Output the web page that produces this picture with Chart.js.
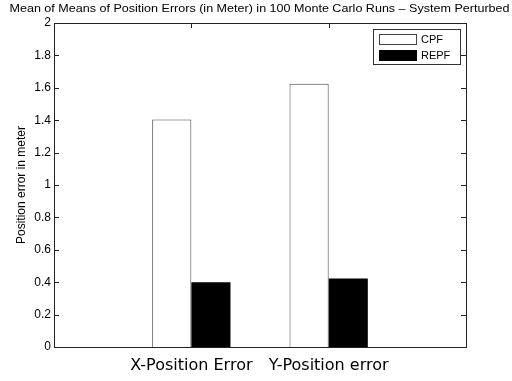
<!DOCTYPE html>
<html>
<head>
<meta charset="utf-8">
<script src="https://cdn.jsdelivr.net/npm/chart.js@4"></script>
<style>
    html, body { margin: 0; padding: 0; background: #fff; }
    #wrap { width: 512px; height: 381px; }
</style>
</head>
<body>
<div id="wrap"><canvas id="chart"></canvas></div>
<script>
const categories = ['', 'X-Position Error', 'Y-Position error', ''];
const cpfValues = [null, 1.405, 1.625, null];
const repfValues = [null, 0.40, 0.423, null];
const yTicks = [0, 0.2, 0.4, 0.6, 0.8, 1, 1.2, 1.4, 1.6, 1.8, 2];
const titleText = 'Mean of Means of Position Errors (in Meter) in 100 Monte Carlo Runs \u2013 System Perturbed';
const yTitle = 'Position error in meter';

const FONT = '"Liberation Sans", Arial, sans-serif';

// matlab style frame: box, inward ticks, legend inside, title
const matlabFrame = {
    id: 'matlabFrame',
    afterDatasetsDraw(chart) {
        const ctx = chart.ctx;
        const area = chart.chartArea;
        const x = chart.scales.x;
        const y = chart.scales.y;
        ctx.save();
        ctx.strokeStyle = '#222';
        ctx.lineWidth = 1;
        ctx.strokeRect(Math.round(area.left) + 0.5, Math.round(area.top) + 0.5,
            Math.round(area.right - area.left), Math.round(area.bottom - area.top));

        ctx.beginPath();
        yTicks.forEach((v) => {
            const py = Math.round(y.getPixelForValue(v)) + 0.5;
            ctx.moveTo(area.left, py);
            ctx.lineTo(area.left + 5, py);
            ctx.moveTo(area.right, py);
            ctx.lineTo(area.right - 5, py);
        });
        [1, 2].forEach((i) => {
            const px = Math.round(x.getPixelForValue(i)) + 0.5;
            ctx.moveTo(px, area.top);
            ctx.lineTo(px, area.top + 5);
        });
        ctx.stroke();

        // title, stretched a little wide like the original
        ctx.fillStyle = '#000';
        ctx.font = '11px ' + FONT;
        ctx.textAlign = 'center';
        ctx.textBaseline = 'middle';
        const w = ctx.measureText(titleText).width;
        ctx.save();
        ctx.translate(259.5, 9);
        ctx.scale(500 / w, 1);
        ctx.fillText(titleText, 0, 0);
        ctx.restore();

        // legend
        const lx = 373, ly = 29, lw = 87, lh = 35;
        ctx.fillStyle = '#fff';
        ctx.fillRect(lx, ly, lw, lh);
        ctx.strokeStyle = '#333';
        ctx.strokeRect(lx + 0.5, ly + 0.5, lw, lh);
        chart.data.datasets.forEach((ds, i) => {
            const sy = ly + 5 + i * 16;
            ctx.fillStyle = ds.backgroundColor;
            ctx.fillRect(379, sy, 38, 11);
            ctx.strokeStyle = ds.borderColor;
            ctx.strokeRect(379.5, sy + 0.5, 37, 10);
            ctx.fillStyle = '#000';
            ctx.font = '11px ' + FONT;
            ctx.textAlign = 'left';
            ctx.fillText(ds.label, 421, sy + 6);
        });
        ctx.restore();
    }
};

new Chart(document.getElementById('chart'), {
    type: 'bar',
    data: {
        labels: categories,
        datasets: [
            {
                label: 'CPF',
                data: cpfValues,
                backgroundColor: '#ffffff',
                borderColor: '#444444',
                borderWidth: 1,
                borderSkipped: 'bottom',
            },
            {
                label: 'REPF',
                data: repfValues,
                backgroundColor: '#000000',
                borderColor: '#000000',
                borderWidth: 0,
            },
        ],
    },
    options: {
        responsive: true,
        maintainAspectRatio: false,
        animation: false,
        layout: {
            padding: { top: 23, left: 0, right: 46, bottom: 0 },
        },
        datasets: {
            bar: {
                categoryPercentage: 0.57,
                barPercentage: 1,
            },
        },
        scales: {
            x: {
                type: 'category',
                offset: false,
                grid: { display: false, drawTicks: false },
                border: { display: false },
                ticks: {
                    autoSkip: false,
                    maxRotation: 0,
                    padding: 9,
                    color: '#000',
                    font: { family: '"DejaVu Sans", sans-serif', size: 16 },
                },
                afterFit(scale) {
                    scale.height = 34;
                },
            },
            y: {
                min: 0,
                max: 2,
                grid: { display: false, drawTicks: false },
                border: { display: false },
                ticks: {
                    stepSize: 0.2,
                    padding: 3,
                    color: '#000',
                    font: { family: FONT, size: 12 },
                    callback: function (value) {
                        return String(Math.round(value * 10) / 10);
                    },
                },
                title: {
                    display: true,
                    text: yTitle,
                    color: '#000',
                    font: { family: FONT, size: 12 },
                    padding: { top: 14, bottom: 0 },
                },
                afterFit(scale) {
                    scale.width = 54;
                },
            },
        },
        plugins: {
            legend: { display: false },
            title: { display: false },
            tooltip: { enabled: false },
        },
    },
    plugins: [matlabFrame],
});
</script>
</body>
</html>
